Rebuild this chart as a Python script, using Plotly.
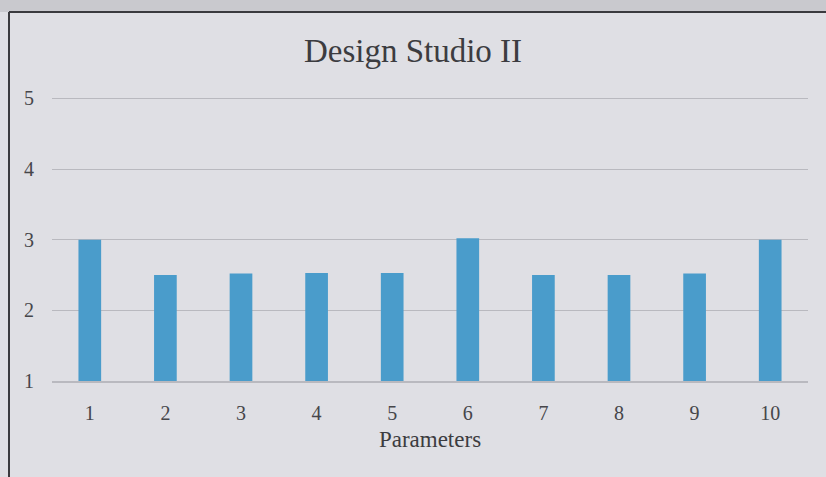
import plotly.graph_objects as go

categories = ["1", "2", "3", "4", "5", "6", "7", "8", "9", "10"]
scores = [3.0, 2.5, 2.52, 2.53, 2.53, 3.02, 2.5, 2.5, 2.52, 3.0]
y_ticks = [1, 2, 3, 4, 5]
title_text = "Design Studio II"
x_title = "Parameters"

W, H = 826, 477
L, R, T, B = 52, 18, 97, 96
pw, ph = W - L - R, H - T - B

def px(x):
    return (x - L) / pw

def py(y):
    return 1 + (T - y) / ph

bg = "#dfdfe4"
txt = "#46464a"
grid = "#b9b9bf"

fig = go.Figure(go.Bar(
    x=categories, y=scores,
    marker=dict(color="#4a9ccb", line=dict(width=0)),
))

fig.update_layout(
    width=W, height=H,
    margin=dict(l=L, r=R, t=T, b=B),
    paper_bgcolor=bg, plot_bgcolor=bg,
    bargap=0.7,
    showlegend=False,
    font=dict(family="Liberation Serif", color=txt, size=20),
    title=dict(text=title_text, x=0.5, xref="container", y=1 - 50 / H,
               yref="container", yanchor="middle", xanchor="center",
               font=dict(family="Liberation Serif", size=33, color="#3c3c40")),
    xaxis=dict(type="category", showgrid=False, showline=True, linecolor=grid,
               linewidth=1.5, ticks="", ticklabelstandoff=13,
               tickfont=dict(size=20),
               title=dict(text=x_title, font=dict(size=23, color="#3c3c40"), standoff=8)),
    yaxis=dict(range=[1, 5.02], tickvals=y_ticks, showgrid=True, gridcolor=grid,
               gridwidth=1.2, zeroline=False, showline=False, ticks="",
               ticklabelstandoff=17, tickfont=dict(size=20)),
    shapes=[
        dict(type="rect", xref="paper", yref="paper", x0=px(-5), x1=px(W + 5),
             y0=py(12), y1=py(-5), fillcolor="#c9c9ce", line=dict(width=0), layer="below"),
        dict(type="line", xref="paper", yref="paper", x0=px(9), x1=px(W + 5),
             y0=py(12), y1=py(12), line=dict(color="#3a3a3e", width=2)),
        dict(type="line", xref="paper", yref="paper", x0=px(9), x1=px(9),
             y0=py(12), y1=py(H + 5), line=dict(color="#3a3a3e", width=2)),
    ],
)

fig.write_html("out.html", config={"displayModeBar": False},
               post_script="document.body.style.margin='0';")
